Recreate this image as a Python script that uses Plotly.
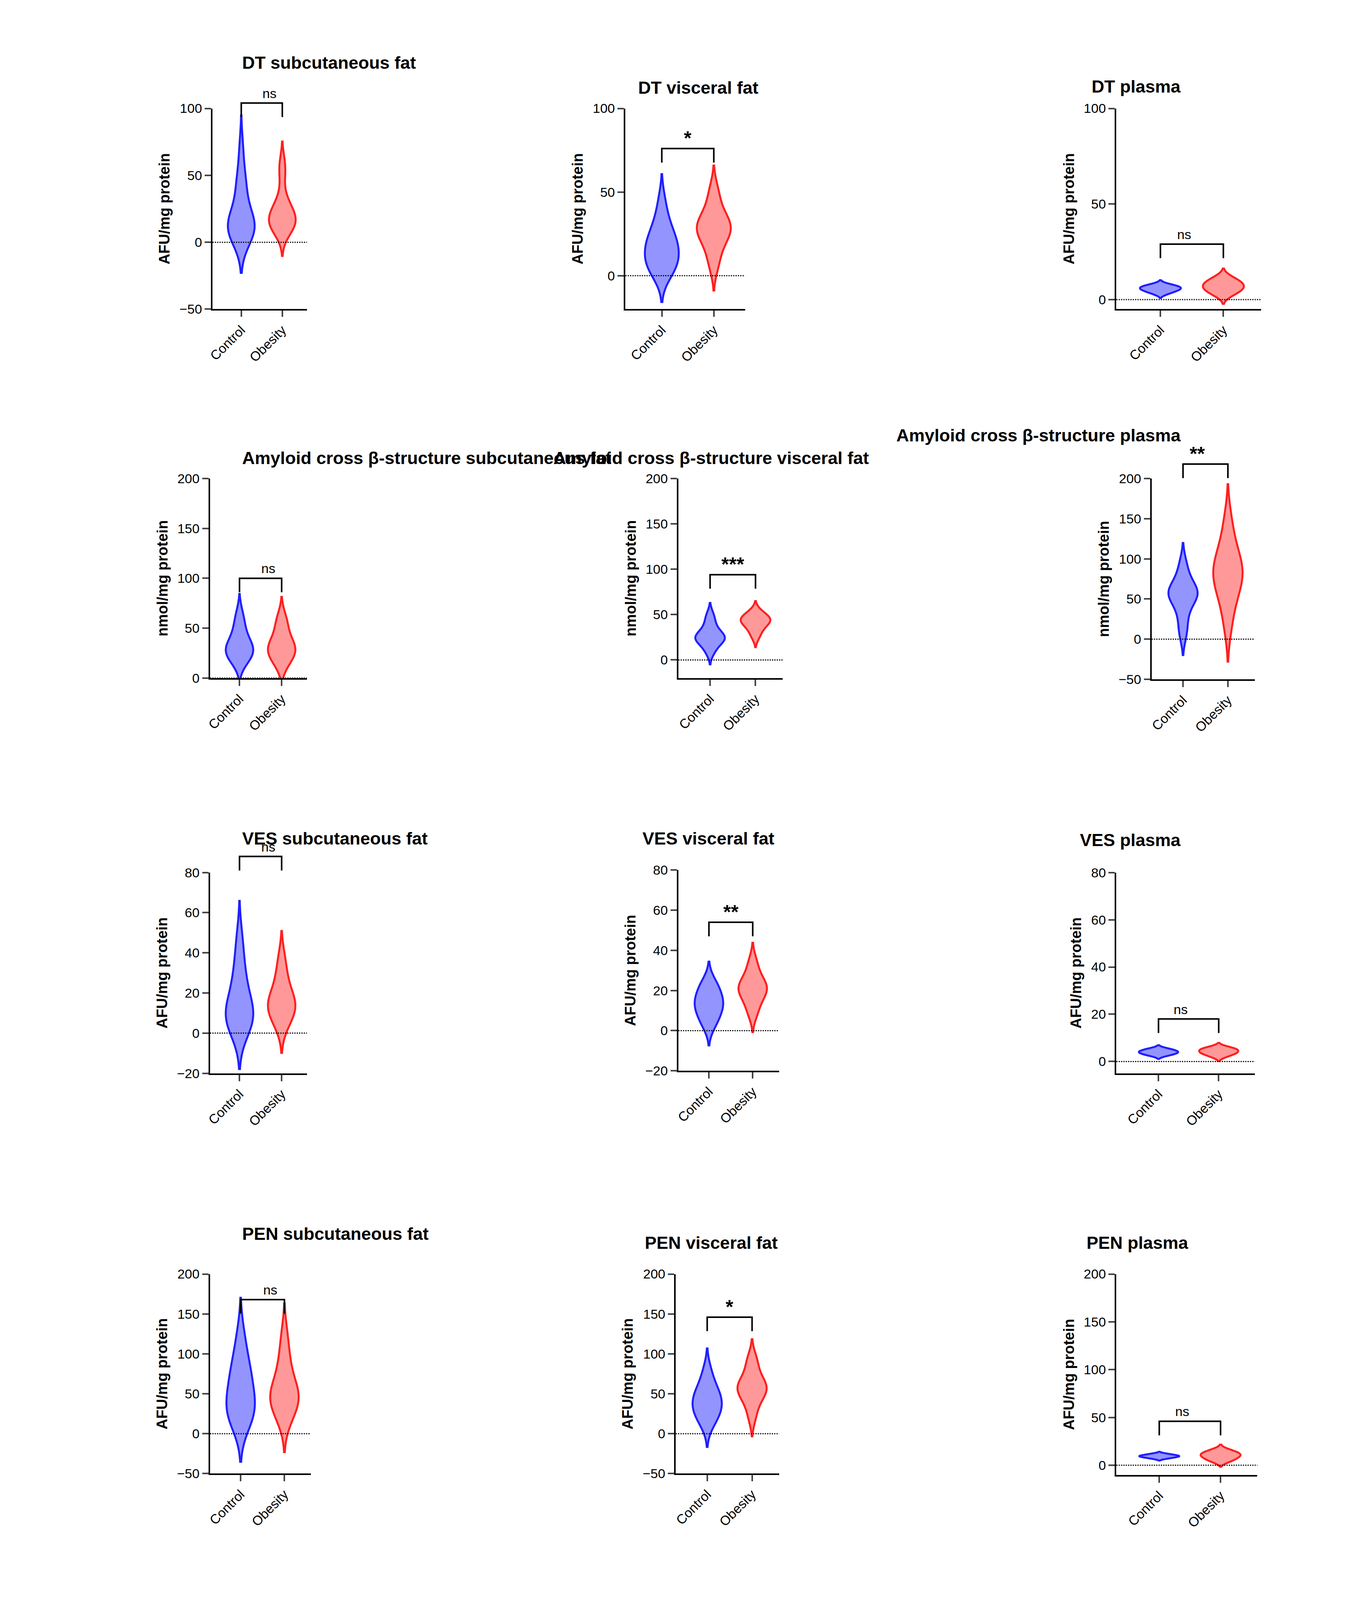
import plotly.graph_objects as go

W, H = 3495, 5118
S = W / 1080.0  # reference drawn at ~1080 px wide

GROUPS = ["Control", "Obesity"]

# ---- data ----
DT_SUB_CONTROL = [2, 5, 8, 10, 11, 12, 13, 15, 18, 25, 38, 42, 50, 70]
DT_SUB_OBESITY = [5, 10, 12, 14, 15, 17, 20, 22, 25, 28, 35, 50, 60]
DT_VIS_CONTROL = [0, 3, 5, 8, 10, 12, 15, 18, 20, 22, 25, 30, 35, 45]
DT_VIS_OBESITY = [5, 12, 18, 22, 25, 27, 28, 30, 32, 35, 38, 45, 52]
DT_PLA_CONTROL = [3, 4, 5, 5, 6, 6, 7, 7, 8]
DT_PLA_OBESITY = [2, 4, 5, 6, 7, 8, 9, 10, 12]
AMY_SUB_CONTROL = [15, 20, 22, 25, 28, 30, 32, 35, 40, 48, 55, 65]
AMY_SUB_OBESITY = [12, 18, 22, 25, 28, 30, 32, 35, 40, 48, 55, 62]
AMY_VIS_CONTROL = [8, 15, 20, 22, 24, 25, 27, 30, 35, 42, 50]
AMY_VIS_OBESITY = [25, 32, 36, 40, 42, 44, 45, 47, 50, 54]
AMY_PLA_CONTROL = [5, 20, 35, 45, 52, 55, 58, 60, 62, 70, 80, 95]
AMY_PLA_OBESITY = [15, 40, 55, 65, 75, 80, 85, 90, 100, 110, 125, 150]
VES_SUB_CONTROL = [0, 3, 5, 8, 9, 10, 12, 15, 20, 25, 30, 38, 48]
VES_SUB_OBESITY = [3, 7, 10, 12, 14, 15, 17, 20, 25, 30, 38]
VES_VIS_CONTROL = [2, 5, 8, 10, 12, 14, 15, 17, 20, 22, 25]
VES_VIS_OBESITY = [8, 12, 16, 18, 20, 21, 22, 24, 26, 30, 35]
VES_PLA_CONTROL = [2.5, 3, 3.5, 4, 4, 4.5, 5, 5.5]
VES_PLA_OBESITY = [2, 3, 3.5, 4, 4.5, 5, 5.5, 6]
PEN_SUB_CONTROL = [10, 20, 25, 30, 35, 45, 55, 65, 75, 85, 100, 125]
PEN_SUB_OBESITY = [15, 25, 35, 40, 45, 48, 52, 60, 70, 85, 100, 125]
PEN_VIS_CONTROL = [10, 20, 25, 30, 35, 40, 45, 50, 55, 65, 80]
PEN_VIS_OBESITY = [20, 35, 45, 50, 55, 58, 60, 65, 72, 85, 95]
PEN_PLA_CONTROL = [7, 8, 9, 9, 10, 10, 11, 12]
PEN_PLA_OBESITY = [4, 6, 8, 10, 11, 12, 14, 16]
TOT_SUB_CONTROL = [0, 2, 4, 5, 6, 7, 8, 10, 12, 15, 18, 22, 28]
TOT_SUB_OBESITY = [3, 5, 7, 8, 9, 10, 11, 12, 14, 16, 18, 22]
TOT_VIS_CONTROL = [2, 5, 7, 8, 9, 10, 11, 12, 14, 16, 18]
TOT_VIS_OBESITY = [4, 7, 9, 10, 11, 12, 13, 14, 16, 18, 21]
TOT_PLA_CONTROL = [3, 4, 5, 6, 6.5, 7, 7, 7.5, 8, 9]
TOT_PLA_OBESITY = [1, 2, 4, 5, 6, 7, 7, 8, 9, 10]

TITLES = [
    "DT subcutaneous fat", "DT visceral fat", "DT plasma",
    "Amyloid cross β-structure subcutaneous fat", "Amyloid cross β-structure visceral fat",
    "Amyloid cross β-structure plasma",
    "VES subcutaneous fat", "VES visceral fat", "VES plasma",
    "PEN subcutaneous fat", "PEN visceral fat", "PEN plasma",
    "Total AGE subcutaneous fat", "Total AGE visceral fat", "Total AGE plasma",
]
YTITLES = ["AFU/mg protein"] * 3 + ["nmol/mg protein"] * 3 + ["AFU/mg protein"] * 9
CONTROL = [DT_SUB_CONTROL, DT_VIS_CONTROL, DT_PLA_CONTROL, AMY_SUB_CONTROL, AMY_VIS_CONTROL,
           AMY_PLA_CONTROL, VES_SUB_CONTROL, VES_VIS_CONTROL, VES_PLA_CONTROL, PEN_SUB_CONTROL,
           PEN_VIS_CONTROL, PEN_PLA_CONTROL, TOT_SUB_CONTROL, TOT_VIS_CONTROL, TOT_PLA_CONTROL]
OBESITY = [DT_SUB_OBESITY, DT_VIS_OBESITY, DT_PLA_OBESITY, AMY_SUB_OBESITY, AMY_VIS_OBESITY,
           AMY_PLA_OBESITY, VES_SUB_OBESITY, VES_VIS_OBESITY, VES_PLA_OBESITY, PEN_SUB_OBESITY,
           PEN_VIS_OBESITY, PEN_PLA_OBESITY, TOT_SUB_OBESITY, TOT_VIS_OBESITY, TOT_PLA_OBESITY]
YRANGES = [(-50, 100), (-20, 100), (-5, 100), (0, 200), (-20, 200), (-50, 200),
           (-20, 80), (-20, 80), (-5, 80), (-50, 200), (-50, 200), (-10, 200),
           (-10, 40), (-10, 40), (-5, 40)]
DTICKS = [50, 50, 50, 50, 50, 50, 20, 20, 20, 50, 50, 50, 10, 10, 10]
BRACKET_Y = [104, 76, 29, 100, 94, 218, 88, 54, 18, 168, 146, 46, 40, 31, 19]
SIG = ["ns", "*", "ns", "ns", "***", "**", "ns", "**", "ns", "ns", "*", "ns", "ns", "ns", "ns"]

# ---- layout geometry (reference px at 1080 wide): axis_x, end_x, top_y, bottom_y ----
BOXES = [(162, 237, 78, 238), (490, 585, 78, 238), (880, 995, 78, 238),
         (160, 237, 373, 532), (532, 615, 373, 532), (908, 990, 373, 533),
         (160, 237, 687, 847), (532, 612, 685, 845), (880, 990, 687, 847),
         (160, 240, 1007, 1166), (530, 612, 1007, 1166), (880, 992, 1007, 1167),
         (157, 237, 1331, 1491), (530, 612, 1331, 1491), (880, 990, 1331, 1490)]
TITLE_POS = [(185, 33), (548, 53), (932, 52), (185, 348), (558, 348), (932, 330),
             (185, 660), (556, 660), (932, 661), (185, 975), (558, 982), (938, 982),
             (183, 1290), (556, 1306), (932, 1306)]
XR = (-0.7, 1.6)
HD = H / S

FONT = "Liberation Sans"
fig = go.Figure()
shapes, annots = [], []

for i in range(15):
    n = i + 1
    sfx = "" if n == 1 else str(n)
    xa, ya = f"x{sfx}", f"y{sfx}"
    ax, ex, ty, by = BOXES[i]
    xd = [ax / 1080, ex / 1080]
    yd = [1 - by / HD, 1 - ty / HD]
    r0, r1 = YRANGES[i]
    for g, data, lc, fc in ((0, CONTROL[i], "#1f1fff", "rgba(60,60,255,0.55)"),
                            (1, OBESITY[i], "#ff1f1f", "rgba(255,70,70,0.55)")):
        fig.add_trace(go.Violin(
            x=[GROUPS[g]] * len(data), y=data, xaxis=xa, yaxis=ya,
            line=dict(color=lc, width=5), fillcolor=fc, width=0.65,
            points=False, spanmode="soft", showlegend=False, meanline=dict(visible=False),
        ))
    fig.layout[f"xaxis{sfx}"] = dict(
        domain=xd, anchor=ya, type="category", categoryarray=GROUPS, range=list(XR),
        showline=True, linewidth=4, linecolor="black", ticks="outside", ticklen=16,
        tickwidth=4, tickangle=-45, showgrid=False, zeroline=False,
        tickfont=dict(family=FONT, size=34, color="black"),
    )
    fig.layout[f"yaxis{sfx}"] = dict(
        domain=yd, anchor=xa, range=[r0, r1], dtick=DTICKS[i], tick0=0,
        showline=True, linewidth=4, linecolor="black", ticks="outside", ticklen=16,
        tickwidth=4, showgrid=False, zeroline=False,
        tickfont=dict(family=FONT, size=34, color="black"),
        title=dict(text=f"<b>{YTITLES[i]}</b>", font=dict(family=FONT, size=38, color="black"),
                   standoff=14),
    )
    # dotted zero line
    shapes.append(dict(type="line", xref=f"{xa} domain", yref=ya, x0=0, x1=1, y0=0, y1=0,
                       line=dict(color="black", width=3, dash="dot")))

    # significance bracket (data -> paper)
    def py(v):
        return yd[0] + (v - r0) / (r1 - r0) * (yd[1] - yd[0])

    def px(v):
        return xd[0] + (v - XR[0]) / (XR[1] - XR[0]) * (xd[1] - xd[0])

    drop = 0.07 * (yd[1] - yd[0])
    yb = py(BRACKET_Y[i])
    shapes.append(dict(type="path", xref="paper", yref="paper",
                       path=f"M {px(0)},{yb - drop} L {px(0)},{yb} L {px(1)},{yb} L {px(1)},{yb - drop}",
                       line=dict(color="black", width=4)))
    big = SIG[i] != "ns"
    annots.append(dict(x=px(0.5), y=yb, xref="paper", yref="paper", text=f"<b>{SIG[i]}</b>" if big else "ns",
                       showarrow=False, yanchor="bottom", yshift=-4 if big else 4,
                       font=dict(family=FONT, size=50 if big else 34, color="black")))
    tx, tyy = TITLE_POS[i]
    annots.append(dict(x=tx / 1080, y=1 - tyy / HD, xref="paper", yref="paper",
                       text=f"<b>{TITLES[i]}</b>", showarrow=False,
                       font=dict(family=FONT, size=45, color="black")))

fig.update_layout(
    width=W, height=H, margin=dict(l=0, r=0, t=0, b=0),
    paper_bgcolor="white", plot_bgcolor="white",
    shapes=shapes, annotations=annots, violingap=0,
)
fig.write_html("out.html")
